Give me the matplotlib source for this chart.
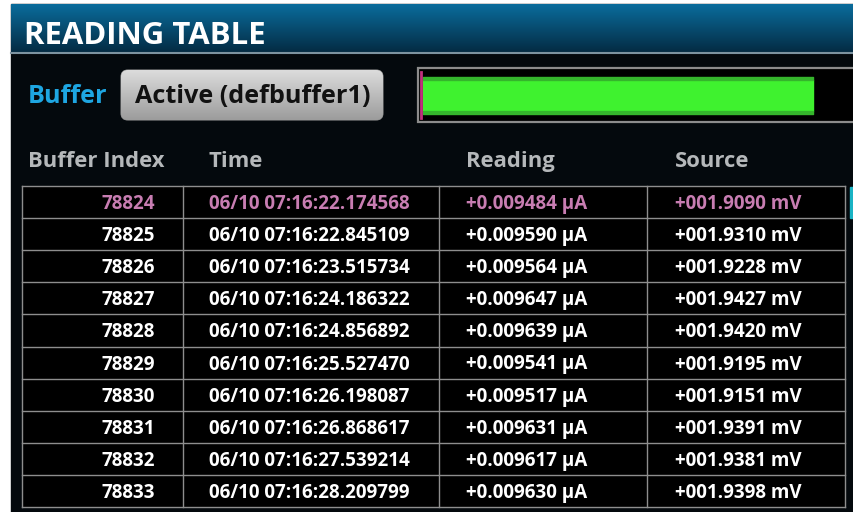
import matplotlib
matplotlib.use("Agg")
import matplotlib.pyplot as plt
import numpy as np
from matplotlib.patches import Rectangle, FancyBboxPatch

# --- Data ---
TITLE = "READING TABLE"
BUFFER_LABEL = "Buffer"
BUFFER_NAME = "Active (defbuffer1)"
HEADERS = ["Buffer Index", "Time", "Reading", "Source"]

index_vals = [78824, 78825, 78826, 78827, 78828, 78829, 78830, 78831, 78832, 78833]
time_vals = [
    "06/10 07:16:22.174568", "06/10 07:16:22.845109", "06/10 07:16:23.515734",
    "06/10 07:16:24.186322", "06/10 07:16:24.856892", "06/10 07:16:25.527470",
    "06/10 07:16:26.198087", "06/10 07:16:26.868617", "06/10 07:16:27.539214",
    "06/10 07:16:28.209799",
]
reading_vals = [0.009484, 0.009590, 0.009564, 0.009647, 0.009639,
                0.009541, 0.009517, 0.009631, 0.009617, 0.009630]   # uA
source_vals = [1.9090, 1.9310, 1.9228, 1.9427, 1.9420,
               1.9195, 1.9151, 1.9391, 1.9381, 1.9398]              # mV

# --- Style ---
FONT = "Open Sans"
BG = "#04090d"
PINK = "#c87db2"
CYAN = "#1ea6e2"
GRID = "#8e8e8e"

fig = plt.figure(figsize=(8.54, 5.12), dpi=100, facecolor="white")
ax = fig.add_axes([0, 0, 1, 1])
ax.set_xlim(0, 854)
ax.set_ylim(512, 0)
ax.axis("off")

# screen background
ax.add_patch(Rectangle((11, 4), 843, 508, color=BG, zorder=0))

# title bar with vertical gradient
grad = np.linspace(0, 1, 64).reshape(-1, 1)
top_c = np.array([0x0a, 0x6c, 0x9c]) / 255
bot_c = np.array([0x04, 0x2c, 0x44]) / 255
img = top_c + (bot_c - top_c) * grad[..., None]
ax.imshow(img, extent=(11, 854, 52, 4), aspect="auto", zorder=1)
ax.plot([11, 854], [52.5, 52.5], color="#7d93a0", lw=1.5, zorder=2)
ax.text(24, 44, TITLE, color="white", fontsize=22.4, fontweight="bold",
        family=FONT, va="baseline", ha="left", zorder=3)

# buffer label and button
ax.text(28, 103, BUFFER_LABEL, color=CYAN, fontsize=18.2, fontweight="bold",
        family=FONT, va="baseline", zorder=3)
btn = FancyBboxPatch((121, 70), 262, 50, boxstyle="round,pad=0,rounding_size=7",
                     facecolor="#bdbdbd", edgecolor="#8a8a8a", lw=0.8, zorder=2)
ax.add_patch(btn)
bgrad = np.linspace(0, 1, 64).reshape(-1, 1)
b_top = np.array([0xdc, 0xdc, 0xdc]) / 255
b_bot = np.array([0x9c, 0x9c, 0x9c]) / 255
bimg = b_top + (b_bot - b_top) * bgrad[..., None]
im = ax.imshow(bimg, extent=(121, 383, 120, 70), aspect="auto", zorder=2)
im.set_clip_path(btn)
ax.text(252.5, 103, BUFFER_NAME, color="#111111", fontsize=18.2, fontweight="bold",
        family=FONT, va="baseline", ha="center", zorder=3)

# buffer overview strip
ax.add_patch(Rectangle((418, 68), 440, 54, facecolor="black",
                       edgecolor="#8c8c8c", lw=1.6, zorder=2))
ax.fill_between([423, 813], [80, 80], [111, 111], color="#3ff22f", zorder=3)
ax.fill_between([423, 813], [77, 77], [80, 80], color="#35b52c", zorder=3)
ax.fill_between([423, 813], [111, 111], [114, 114], color="#35b52c", zorder=3)
ax.plot([421.5, 421.5], [72, 118], color="#c2307e", lw=2, zorder=4)

# column headers
col_edges = [22, 183, 439, 647, 845]
header_x = [28, 209, 466, 675]
for hx, h in zip(header_x, HEADERS):
    ax.text(hx, 167, h, color="#b5b8ba", fontsize=15.8, fontweight="bold",
            family=FONT, va="baseline", zorder=3)

# table
top = 186
row_h = 32.1
n = len(index_vals)
ax.add_patch(Rectangle((col_edges[0], top), col_edges[-1] - col_edges[0], row_h * n,
                       facecolor="black", edgecolor="none", zorder=1))
for i in range(n + 1):
    y = top + i * row_h
    ax.plot([col_edges[0], col_edges[-1]], [y, y], color=GRID, lw=1.0, zorder=2)
for x in col_edges:
    ax.plot([x, x], [top, top + row_h * n], color=GRID, lw=1.0, zorder=2)

for i in range(n):
    c = PINK if i == 0 else "white"
    base = top + i * row_h + 23
    kw = dict(color=c, fontsize=13.5, fontweight="bold", family=FONT,
              va="baseline", zorder=3)
    ax.text(155, base, str(index_vals[i]), ha="right", **kw)
    ax.text(209, base, time_vals[i], ha="left", **kw)
    ax.text(466, base, f"+{reading_vals[i]:.6f} \u00b5A", ha="left", **kw)
    ax.text(675, base, f"+{source_vals[i]:08.4f} mV", ha="left", **kw)

# scroll indicator
ax.add_patch(Rectangle((850, 187), 4, 31, color="#19b3c4", zorder=3))

fig.savefig("out.png", dpi=100, facecolor="white")
